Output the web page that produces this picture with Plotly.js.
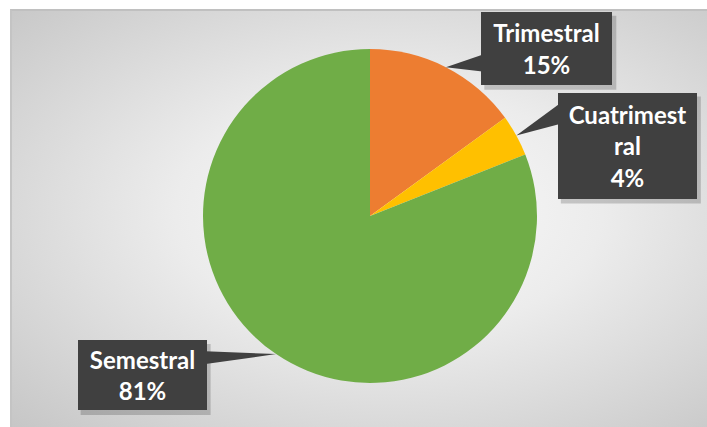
<!DOCTYPE html>
<html>
<head>
<meta charset="utf-8">
<script src="https://cdn.plot.ly/plotly-3.0.1.min.js"></script>
<style>
  html, body { margin: 0; padding: 0; background: #ffffff; }
  #wrap { position: relative; width: 707px; height: 427px; overflow: hidden; }
  #bg {
    position: absolute; left: 10px; top: 9px; width: 700px; height: 420px;
    box-sizing: border-box;
    border-top: 2px solid #c0c0c0; border-left: 2px solid #c4c4c4;
    background: radial-gradient(farthest-corner at 54% 48%, #fbfbfb 0%, #ececec 40%, #c6c6c6 100%);
  }
  #chart { position: absolute; left: 0; top: 0; width: 707px; height: 427px; }
</style>
</head>
<body>
<div id="wrap">
  <div id="bg"></div>
  <div id="chart"></div>
</div>
<script>
// ---- data ----
var labels = ['Trimestral', 'Cuatrimestral', 'Semestral'];
var values = [15, 4, 81];
var colors = ['#ED7D31', '#FFC000', '#70AD47'];

// ---- layout geometry (pixels) ----
var W = 707, H = 427;
var cx = 370, cy = 216, R = 167;
// label box centre offsets from the slice edge point, box sizes, wedge base span (fraction of box height)
var boxOffsets = [[101, -19], [111, 10], [-134, 21]];
var boxSizes = [[131, 73], [139, 106], [129, 70]];
var wedgeSpan = [[0.59, 0.82], [0.11, 0.30], [0.16, 0.34]];
var boxColor = '#404040';

function wrap(s, n) {
  var out = [];
  for (var i = 0; i < s.length; i += n) out.push(s.slice(i, i + n));
  return out.join('<br>');
}
function X(p) { return p / W; }
function Y(p) { return 1 - p / H; }

var total = values.reduce(function (a, b) { return a + b; }, 0);
var cum = 0;
var annotations = [], shapes = [];
for (var i = 0; i < values.length; i++) {
  var mid = (cum + values[i] / 2) / total;
  cum += values[i];
  var th = 2 * Math.PI * mid;
  var px = cx + R * Math.sin(th);
  var py = cy - R * Math.cos(th);
  var bcx = px + boxOffsets[i][0], bcy = py + boxOffsets[i][1];
  var bw = boxSizes[i][0], bh = boxSizes[i][1];
  var x0 = bcx - bw / 2, x1 = bcx + bw / 2, y0 = bcy - bh / 2, y1 = bcy + bh / 2;
  // shadow
  shapes.push({ type: 'rect', xref: 'paper', yref: 'paper', layer: 'above',
    x0: X(x0 + 3), x1: X(x1 + 4), y0: Y(y0 + 4), y1: Y(y1 + 5),
    fillcolor: 'rgba(0,0,0,0.18)', line: { width: 0 } });
  // wedge pointer
  var sx = px < bcx ? x0 + 1 : x1 - 1;
  var ya = y0 + wedgeSpan[i][0] * bh, yb = y0 + wedgeSpan[i][1] * bh;
  shapes.push({ type: 'path', xref: 'paper', yref: 'paper', layer: 'above',
    path: 'M' + X(px) + ',' + Y(py) + ' L' + X(sx) + ',' + Y(ya) + ' L' + X(sx) + ',' + Y(yb) + ' Z',
    fillcolor: boxColor, line: { width: 0 } });
  var pct = Math.round(values[i] / total * 100) + '%';
  annotations.push({
    x: X(bcx), y: Y(bcy), xref: 'paper', yref: 'paper',
    xanchor: 'center', yanchor: 'middle', showarrow: false,
    text: wrap(labels[i], 10) + '<br>' + pct,
    font: { family: 'Lato, "Open Sans", sans-serif', size: 24, color: '#ffffff', weight: 'bold' },
    bgcolor: boxColor, borderpad: 0, borderwidth: 0,
    width: bw, height: bh, align: 'center', valign: 'middle'
  });
}

var trace = {
  type: 'pie',
  labels: labels,
  values: values,
  sort: false,
  direction: 'clockwise',
  rotation: 0,
  marker: { colors: colors, line: { width: 0 } },
  textinfo: 'none',
  hoverinfo: 'label+percent',
  showlegend: false,
  domain: { x: [(cx - R) / W, (cx + R) / W], y: [1 - (cy + R) / H, 1 - (cy - R) / H] }
};

var layout = {
  width: W, height: H,
  margin: { l: 0, r: 0, t: 0, b: 0 },
  paper_bgcolor: 'rgba(0,0,0,0)',
  plot_bgcolor: 'rgba(0,0,0,0)',
  showlegend: false,
  shapes: shapes,
  annotations: annotations
};

Plotly.newPlot('chart', [trace], layout, { displayModeBar: false, staticPlot: true });
</script>
</body>
</html>
